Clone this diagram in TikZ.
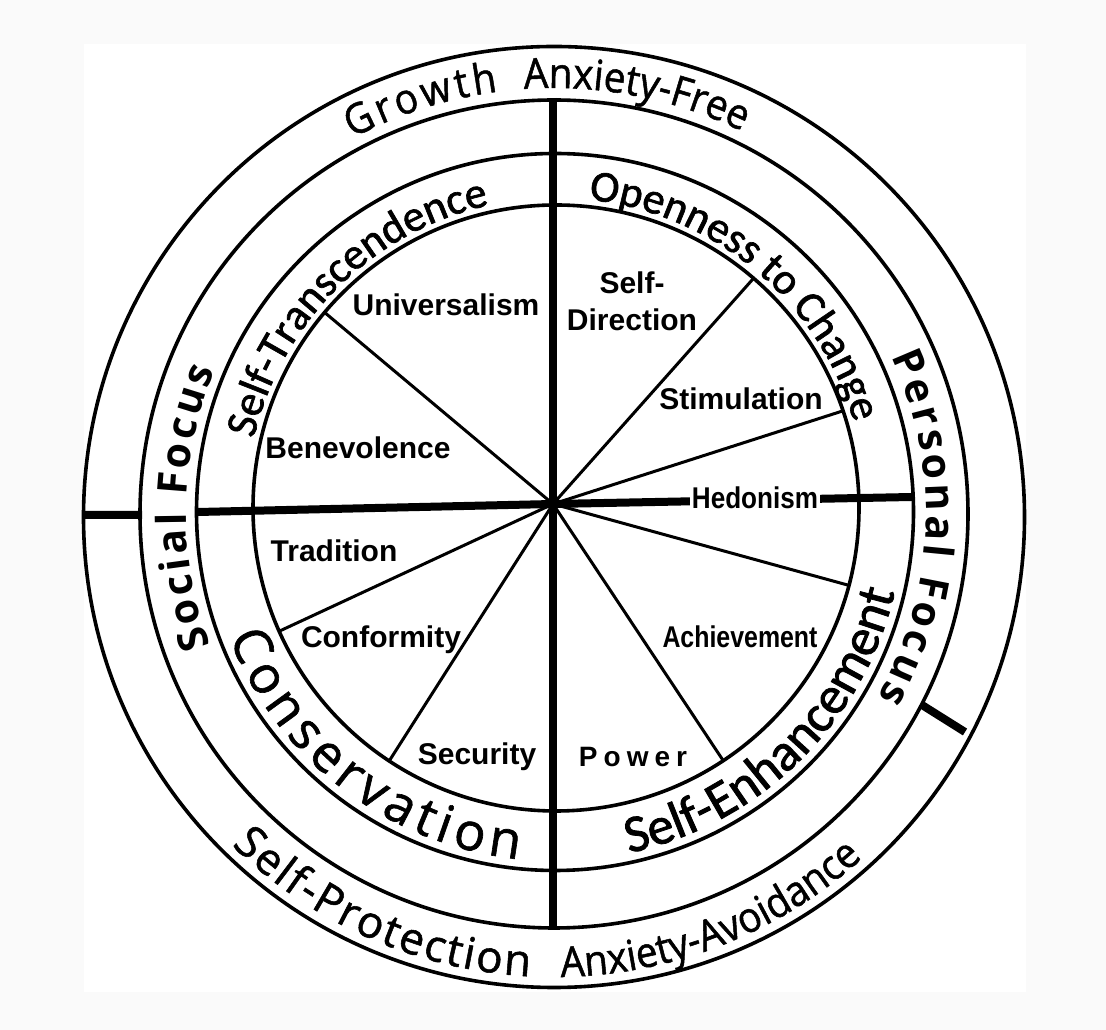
\documentclass[tikz,border=0pt]{standalone}
\usepackage{fontspec}
\usetikzlibrary{calc,decorations.text}
\newfontfamily\valfont{Liberation Sans}
\newfontfamily\ringfont[FakeStretch=0.92,FakeBold=1.2]{Open Sans}
\newfontfamily\consfam[FakeBold=1.2]{Open Sans}
\newfontfamily\focusfam{Open Sans}
\newfontfamily\bandfont[FakeBold=1.5]{Carlito}
\newcommand\valsize{\fontsize{30}{37}\selectfont}
\newcommand\outerfont{\fontsize{42}{44}\selectfont\ringfont}
\newcommand\protfont{\fontsize{44}{46}\selectfont\consfam}
\newcommand\focusfont{\fontsize{41}{43}\selectfont\focusfam\bfseries}
\newcommand\bandtop{\fontsize{44}{46}\selectfont\bandfont}
\newcommand\consfont{\fontsize{52}{54}\selectfont\consfam}
\newcommand\enhfont{\fontsize{53}{55}\selectfont\bandfont}
\begin{document}
\begin{tikzpicture}[x=1pt, y=1pt,
  ring/.style={line width=3.6pt},
  spoke/.style={line width=3pt},
  axis/.style={line width=8pt},
  value/.style={font=\valsize\valfont\bfseries, inner sep=1pt},
  arctext/.style={decorate, decoration={text along path, text align={fit to path}, text={#1}}},
  midtext/.style={decorate, decoration={text along path, text align={center}, text={#1}}}]
\useasboundingbox (0,0) rectangle (1106,1030);
\fill[black!2] (0,0) rectangle (1106,1030);
\fill[white] (84,38) rectangle (1026,986);
% centres
\coordinate (hub) at (553,526);
\coordinate (co) at (554,513);
\coordinate (cm) at (554,516);
\coordinate (ct) at (555,518);
\coordinate (ci) at (556,522);
% rings
\draw[ring] (co) circle[radius=470.5];
\draw[ring] (cm) circle[radius=414];
\draw[ring] (ct) circle[radius=358.5];
\draw[ring] (ci) circle[radius=303];
% spokes
\foreach \n/\a in {su/139.8, sd/49.3, sh/18.7, sa/-14.8, sp/-56.5, ss/236.6, st/204}
  \path (ci) ++(\a:303) coordinate (\n);
\draw[spoke] (hub) -- (su) (hub) -- (sd) (hub) -- (sh) (hub) -- (sa);
\draw[spoke] (hub) -- (sp) (hub) -- (ss) (hub) -- (st);
% thick dividers
\coordinate (vt) at (553,932);
\coordinate (vb) at (553,100);
\coordinate (hl) at (198,518);
\coordinate (hr) at (912,533);
\coordinate (tl1) at (85,515);
\coordinate (tl2) at (142,515);
\coordinate (tr1) at (922,325);
\coordinate (tr2) at (965,298);
\draw[axis] (vt) -- (vb);
\draw[axis] (hl) -- (hub) -- (hr);
\draw[axis] (tl1) -- (tl2) (tr1) -- (tr2);
% values
\node[value] (uni) at (446,725) {Universalism};
\node[value, align=center] (sdir) at (632,729) {Self-\\Direction};
\node[value] (sti) at (741,631) {Stimulation};
\node[value, fill=white, inner xsep=2pt] (hed) at (755,532) {\scalebox{0.87}[1]{Hedonism}};
\node[value] (ach) at (740,393) {\scalebox{0.83}[1]{Achievement}};
\node[value] (pow) at (633,273) {\fontsize{28}{30}\selectfont P\kern6pt o\kern6pt w\kern6pt e\kern6pt r};
\node[value] (sec) at (477,273) {Security};
\node[value] (conf) at (381,390) {Conformity};
\node[value] (tra) at (334,479) {Tradition};
\node[value] (ben) at (358,582) {Benevolence};
% ring labels
\path[arctext={|\outerfont|Growth}] ($(co)+(118:429)$) arc[start angle=118, end angle=97.5, radius=429];
\path[midtext={|\outerfont|Anxiety-Free}] ($(co)+(109:429)$) arc[start angle=109, end angle=49, radius=429];
\path[arctext={|\protfont|Self-Protection}] ($(co)+(225.5:460)$) arc[start angle=225.5, end angle=267, radius=460];
\path[midtext={|\outerfont|Anxiety-Avoidance}] ($(co)+(261.5:460)$) arc[start angle=261.5, end angle=321.5, radius=460];
\path[arctext={|\focusfont|Social Focus}] ($(cm)+(201:368)$) arc[start angle=201, end angle=157, radius=368];
\path[arctext={|\focusfont|Personal Focus}] ($(cm)+(25:372)$) arc[start angle=25, end angle=-29.5, radius=372];
\path[midtext={|\bandtop|Self-Transcendence}] ($(ci)+(179.75:310)$) arc[start angle=179.75, end angle=89.75, radius=310];
\path[midtext={|\bandtop|Openness to Change}] ($(ci)+(95:310)$) arc[start angle=95, end angle=5, radius=310];
\path[arctext={|\consfont|Conservation}] ($(ct)+(201:349)$) arc[start angle=201, end angle=264, radius=349];
\path[midtext={|\enhfont|Self-Enhancement}] ($(ct)+(269.5:349)$) arc[start angle=269.5, end angle=359.5, radius=349];
\end{tikzpicture}
\end{document}
